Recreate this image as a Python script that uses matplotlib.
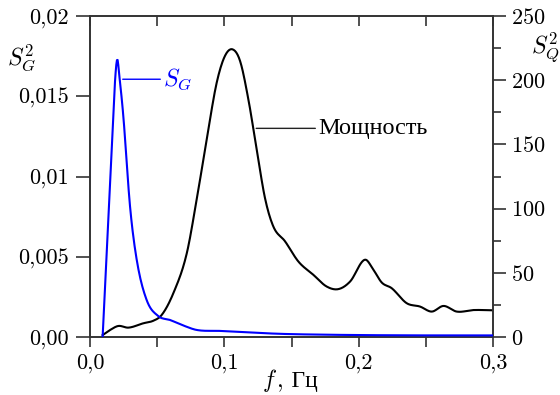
import numpy as np
import matplotlib
matplotlib.use("Agg")
import matplotlib.pyplot as plt
from matplotlib.ticker import MultipleLocator

plt.rcParams['font.family'] = ['cmr10', 'Liberation Serif', 'DejaVu Serif']
plt.rcParams['mathtext.fontset'] = 'cm'
plt.rcParams['axes.formatter.use_mathtext'] = True
plt.rcParams['font.size'] = 16

# S_G (left axis)
f_g = [0.0094, 0.0124, 0.0161, 0.0186, 0.0203, 0.0218, 0.0248, 0.0298, 0.0348,
       0.0422, 0.0509, 0.0596, 0.0700, 0.0794, 0.0968, 0.1200, 0.1410, 0.1800,
       0.2200, 0.2600, 0.3000]
s_g = [0.0, 0.0052, 0.0116, 0.0159, 0.0173, 0.0163, 0.01377, 0.00814, 0.0048,
       0.0023, 0.0013, 0.00106, 0.0007, 0.00044, 0.00038, 0.00028, 0.0002,
       0.00014, 0.00011, 0.0001, 0.0001]

# power spectrum (right axis)
f_q = [0.0094, 0.0150, 0.0211, 0.0285, 0.0397, 0.0472, 0.0534, 0.0620, 0.0720,
       0.0794, 0.0869, 0.0943, 0.1005, 0.1062, 0.1117, 0.1179, 0.1241, 0.1303,
       0.1365, 0.1452, 0.1551, 0.1663, 0.1762, 0.1849, 0.1936, 0.2048, 0.2110,
       0.2172, 0.2246, 0.2358, 0.2457, 0.2544, 0.2631, 0.2730, 0.2854, 0.3000]
s_q = [1.5, 5.5, 8.6, 7.3, 10.7, 12.7, 17.2, 34, 65, 107, 154, 198, 219, 224,
       215, 185, 146, 108, 86, 74.5, 58.8, 48.4, 39.3, 37.3, 43.2, 60.2, 52.3,
       42.4, 38, 26.3, 23.7, 19.8, 24.2, 19.8, 21, 20.8]

x_ticks = [0.0, 0.1, 0.2, 0.3]
x_labels = ['0,0', '0,1', '0,2', '0,3']
l_ticks = [0.0, 0.005, 0.01, 0.015, 0.02]
l_labels = ['0,00', '0,005', '0,01', '0,015', '0,02']
r_ticks = [0, 50, 100, 150, 200, 250]

def smooth(x, y, n=600):
    # cubic hermite through the read points
    x = np.asarray(x); y = np.asarray(y)
    xs = np.linspace(x[0], x[-1], n)
    h = np.diff(x); d = np.diff(y) / h
    m = np.zeros_like(y)
    m[1:-1] = (d[:-1] + d[1:]) / 2
    m[0] = d[0]; m[-1] = d[-1]
    idx = np.clip(np.searchsorted(x, xs) - 1, 0, len(h) - 1)
    t = (xs - x[idx]) / h[idx]
    h00 = 2*t**3 - 3*t**2 + 1; h10 = t**3 - 2*t**2 + t
    h01 = -2*t**3 + 3*t**2; h11 = t**3 - t**2
    ys = h00*y[idx] + h10*h[idx]*m[idx] + h01*y[idx+1] + h11*h[idx]*m[idx+1]
    return xs, ys

fig = plt.figure(figsize=(5.6, 3.95), dpi=100)
ax = fig.add_axes([0.1607, 0.1468, 0.7197, 0.8127])
ax2 = ax.twinx()

xq, yq = smooth(f_q, s_q)
ax2.plot(xq, yq, color='black', lw=1.5)
xg, yg = smooth(f_g, s_g)
ax.plot(xg, yg, color='#0000ff', lw=1.5, zorder=5)
ax.set_zorder(ax2.get_zorder() + 1)
ax.patch.set_visible(False)

ax.set_xlim(0, 0.3)
ax.set_ylim(0, 0.02)
ax2.set_ylim(0, 250)

spine_c = '#333333'
for a in (ax, ax2):
    for s in a.spines.values():
        s.set_color(spine_c)
        s.set_linewidth(1.2)

ax.set_xticks(x_ticks)
ax.set_xticklabels(x_labels)
ax.xaxis.set_minor_locator(MultipleLocator(0.05))
ax.set_yticks(l_ticks)
ax.set_yticklabels(l_labels)
ax.tick_params(axis='x', which='both', direction='out', length=7, width=1.2,
               color=spine_c, pad=5)
ax.tick_params(axis='y', which='major', direction='out', length=10, width=1.2,
               color=spine_c, pad=5)

ax2.set_yticks(r_ticks)
ax2.yaxis.set_minor_locator(MultipleLocator(25))
ax2.tick_params(axis='y', which='major', direction='out', length=9, width=1.2,
                color=spine_c, pad=4)
ax2.tick_params(axis='y', which='minor', direction='out', length=6, width=1.2,
                color=spine_c)

top = ax.secondary_xaxis('top')
top.set_xticks([0.05 * i for i in range(7)])
top.set_xticklabels([])
top.tick_params(direction='in', length=7, width=1.2, color=spine_c)
top.spines['top'].set_visible(False)

ax.annotate(r'$S_G$', xy=(0.0223, 0.01606), xytext=(0.0544, 0.01606),
            color='#0000ff', va='center', ha='left', fontsize=17,
            arrowprops=dict(arrowstyle='-', color='#0000ff', lw=1.0,
                            shrinkA=0, shrinkB=2))
ax2.annotate('Мощность', xy=(0.1206, 162.5), xytext=(0.1698, 162.5),
             color='black', va='center', ha='left', fontsize=17.5,
             arrowprops=dict(arrowstyle='-', color='#222222', lw=1.0,
                             shrinkA=0, shrinkB=3))

fig.text(22 / 560, 1 - 58 / 395, r'$S_G^2$', ha='center', va='center', fontsize=17)
fig.text(545 / 560, 1 - 48 / 395, r'$S_Q^2$', ha='center', va='center', fontsize=17)
fig.text(277 / 560, 1 - 387 / 395, r'$f$', ha='right', va='baseline', fontsize=17)
fig.text(277 / 560, 1 - 387 / 395, ', Гц', ha='left', va='baseline', fontsize=17)

fig.savefig('out.png', dpi=100)
